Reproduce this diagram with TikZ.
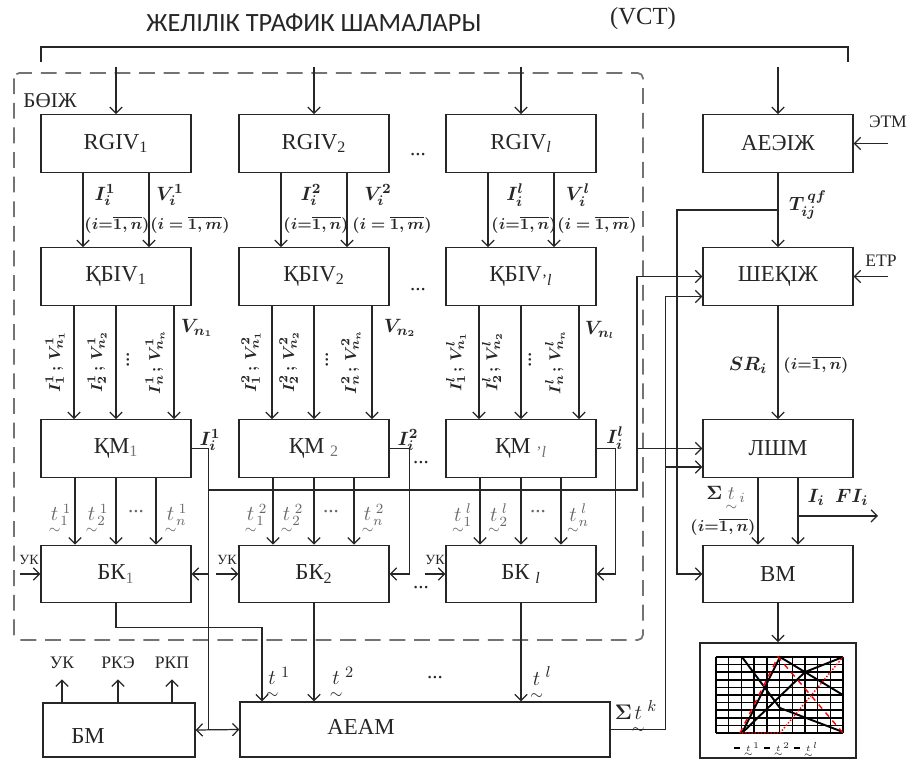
\documentclass[tikz,border=0pt]{standalone}
\usepackage{amsmath,amssymb,bm}
\usepackage{fontspec}
\setmainfont{Liberation Serif}
\newfontfamily\headfont{Carlito}
\usepackage{xcolor}
\usetikzlibrary{arrows.meta,positioning,calc}
\newcommand{\ut}{\smash[b]{\underset{\sim}{t}}}

\begin{document}
\begin{tikzpicture}[
    x=0.02cm, y=-0.02cm,
    >={Straight Barb[length=3.5pt,width=7pt]},
    line width=0.7pt, color=black!85,
    box/.style={draw, minimum width=3cm, minimum height=1.15cm, inner sep=0pt, font=\fontsize{13}{15}\selectfont},
    mlbl/.style={font=\fontsize{11}{13}\selectfont, inner sep=1pt},
    rng/.style={font=\fontsize{9}{10}\selectfont, inner sep=1pt},
    tlbl/.style={font=\fontsize{12}{14}\selectfont, text=black!60, inner sep=1pt},
    rot/.style={rotate=90, font=\fontsize{9.5}{11}\selectfont, inner sep=1pt},
    dots/.style={font=\fontsize{12}{14}\selectfont, inner sep=1pt},
    sml/.style={font=\fontsize{10}{12}\selectfont, inner sep=1pt},
  ]
  \useasboundingbox (0,0) rectangle (914,760);

  % traffic inputs
  \node[font=\headfont\fontsize{15}{17}\selectfont] (title) at (314,23) {ЖЕЛІЛІК ТРАФИК ШАМАЛАРЫ};
  \node[font=\fontsize{14}{16}\selectfont] (vct) at (643,19) {(VCT)};
  \coordinate (bl) at (41,47);
  \coordinate (br) at (848,47);
  \draw ([yshift=-3mm]bl) -- (bl) -- (br) -- ([yshift=-3mm]br);

  \draw[black!55, line width=1pt, dash pattern=on 9pt off 5pt, rounded corners=3pt] (14,73) rectangle (643,640);
  \node[anchor=west, font=\fontsize{12}{14}\selectfont] (boij) at (17,101) {БӨІЖ};

  % blocks
  \node[box] (r1) at (116,143.5) {RGIV\textsubscript{1}};
  \node[box] (r2) at (314,143.5) {RGIV\textsubscript{2}};
  \node[box] (r3) at (521,143.5) {RGIV\textsubscript{\textit{l}}};
  \node[box] (a) at (778,143.5) {АЕЭІЖ};
  \node[box] (q1) at (116,276.5) {ҚБІV\textsubscript{1}};
  \node[box] (q2) at (314,276.5) {ҚБІV\textsubscript{2}};
  \node[box] (q3) at (521,276.5) {ҚБІV\textsubscript{\textquoteright\textit{l}}};
  \node[box] (s) at (778,276.5) {ШЕҚІЖ};
  \node[box] (k1) at (116,448.5) {ҚМ\textsubscript{\color{black!55}1}};
  \node[box] (k2) at (314,448.5) {ҚМ \textsubscript{\color{black!55}2}};
  \node[box] (k3) at (521,448.5) {ҚМ \textsubscript{\color{black!55}\textquoteright\textit{l}}};
  \node[box] (l) at (778,448.5) {ЛШМ};
  \node[box] (b1) at (116,574) {БК\textsubscript{\color{black!55}1}};
  \node[box] (b2) at (314,574) {БК\textsubscript{2}};
  \node[box] (b3) at (521,574) {БК \textsubscript{\textit{l}}};
  \node[box] (v) at (778,574) {ВМ};
  \node[box, minimum width=3.04cm, minimum height=1.08cm] (bm) at (119,730) {};
  \node[box, minimum width=7.4cm, minimum height=1.1cm] (ae) at (425,729.5) {};
  \node[font=\fontsize{13}{15}\selectfont] (bmtxt) at (88,736) {БМ};
  \node[font=\fontsize{13}{15}\selectfont] (aetxt) at (361,727) {АЕАМ};
  \node[draw, line width=0.9pt, minimum width=3.12cm, minimum height=2.3cm, inner sep=0pt] (g) at (778,700.5) {};

  \draw[->] ([yshift=9.4mm]r1.north) -- (r1.north);
  \draw[->] ([yshift=9.4mm]r2.north) -- (r2.north);
  \draw[->] ([yshift=9.4mm]r3.north) -- (r3.north);
  \draw[->] ([yshift=9.4mm]a.north) -- (a.north);

  % RGIV -> QBIV
  \draw[->] ([xshift=-6.6mm]r1.south) -- ([xshift=-6.6mm]q1.north);
  \draw[->] ([xshift=6.6mm]r1.south) -- ([xshift=6.6mm]q1.north);
  \draw[->] ([xshift=-6.6mm]r2.south) -- ([xshift=-6.6mm]q2.north);
  \draw[->] ([xshift=6.6mm]r2.south) -- ([xshift=6.6mm]q2.north);
  \draw[->] ([xshift=-6.6mm]r3.south) -- ([xshift=-6.6mm]q3.north);
  \draw[->] ([xshift=6.6mm]r3.south) -- ([xshift=6.6mm]q3.north);
  \node[mlbl] (ri1) at (105,195) {$\bm{I_i^1}$};
  \node[rng] (rn1) at (117,225) {$\bm{(i{=}\overline{1,n})}$};
  \node[mlbl] (rv1) at (170,195) {$\bm{V_i^1}$};
  \node[rng] (rm1) at (190,225) {$\bm{(i=\overline{1,m})}$};
  \node[mlbl] (ri2) at (311,195) {$\bm{I_i^2}$};
  \node[rng] (rn2) at (316,225) {$\bm{(i{=}\overline{1,n})}$};
  \node[mlbl] (rv2) at (378,195) {$\bm{V_i^2}$};
  \node[rng] (rm2) at (392,225) {$\bm{(i=\overline{1,m})}$};
  \node[mlbl] (ri3) at (515,195) {$\bm{I_i^l}$};
  \node[rng] (rn3) at (524,225) {$\bm{(i{=}\overline{1,n})}$};
  \node[mlbl] (rv3) at (578,195) {$\bm{V_i^l}$};
  \node[rng] (rm3) at (597,225) {$\bm{(i=\overline{1,m})}$};
  \node[dots] (d1) at (418,155) {...};
  \node[dots] (d2) at (418,290) {...};

  % QBIV -> QM
  \draw[->] ([xshift=-8.4mm]q1.south) -- ([xshift=-8.4mm]k1.north);
  \draw[->] (q1.south) -- (k1.north);
  \draw[->] ([xshift=11.6mm]q1.south) -- ([xshift=11.6mm]k1.north);
  \draw[->] ([xshift=-8.4mm]q2.south) -- ([xshift=-8.4mm]k2.north);
  \draw[->] (q2.south) -- (k2.north);
  \draw[->] ([xshift=11.6mm]q2.south) -- ([xshift=11.6mm]k2.north);
  \draw[->] ([xshift=-8.4mm]q3.south) -- ([xshift=-8.4mm]k3.north);
  \draw[->] (q3.south) -- (k3.north);
  \draw[->] ([xshift=11.6mm]q3.south) -- ([xshift=11.6mm]k3.north);
  \node[rot] (p11) at (55,362) {$\bm{I_1^1\,;\,V^1_{n_1}}$};
  \node[rot] (p12) at (97,362) {$\bm{I_2^1\,;\,V^1_{n_2}}$};
  \node[rot, dots] (p1d) at (128,360) {...};
  \node[rot] (p13) at (155,362) {$\bm{I_n^1\,;\,V^1_{n_n}}$};
  \node[rot] (p21) at (251,362) {$\bm{I_1^2\,;\,V^2_{n_1}}$};
  \node[rot] (p22) at (289,362) {$\bm{I_2^2\,;\,V^2_{n_2}}$};
  \node[rot, dots] (p2d) at (327,360) {...};
  \node[rot] (p23) at (351,362) {$\bm{I_n^2\,;\,V^2_{n_n}}$};
  \node[rot] (p31) at (456,362) {$\bm{I_1^l\,;\,V^l_{n_1}}$};
  \node[rot] (p32) at (492,362) {$\bm{I_2^l\,;\,V^l_{n_2}}$};
  \node[rot, dots] (p3d) at (530,360) {...};
  \node[rot] (p33) at (555,362) {$\bm{I_n^l\,;\,V^l_{n_n}}$};
  \node[mlbl] (vn1) at (197,328) {$\bm{V_{n_1}}$};
  \node[mlbl] (vn2) at (400,328) {$\bm{V_{n_2}}$};
  \node[mlbl] (vn3) at (600,330) {$\bm{V_{n_l}}$};

  % QM -> BK
  \draw[->] ([xshift=-8.2mm]k1.south) -- ([xshift=-8.2mm]b1.north);
  \draw[->] (k1.south) -- (b1.north);
  \draw[->] ([xshift=8mm]k1.south) -- ([xshift=8mm]b1.north);
  \draw[->] ([xshift=-8.2mm]k2.south) -- ([xshift=-8.2mm]b2.north);
  \draw[->] (k2.south) -- (b2.north);
  \draw[->] ([xshift=8mm]k2.south) -- ([xshift=8mm]b2.north);
  \draw[->] ([xshift=-8.2mm]k3.south) -- ([xshift=-8.2mm]b3.north);
  \draw[->] (k3.south) -- (b3.north);
  \draw[->] ([xshift=8mm]k3.south) -- ([xshift=8mm]b3.north);
  \node[tlbl] (t11) at (60,515) {$\ut_1^{\,1}$};
  \node[tlbl] (t12) at (97,515) {$\ut_2^{\,1}$};
  \node[dots, text=black!60] (t1d) at (136,512) {...};
  \node[tlbl] (t13) at (176,515) {$\ut_n^{\,1}$};
  \node[tlbl] (t21) at (256,515) {$\ut_1^{\,2}$};
  \node[tlbl] (t22) at (292,515) {$\ut_2^{\,2}$};
  \node[dots, text=black!60] (t2d) at (331,512) {...};
  \node[tlbl] (t23) at (373,515) {$\ut_n^{\,2}$};
  \node[tlbl] (t31) at (462,515) {$\ut_1^{\,l}$};
  \node[tlbl] (t32) at (498,515) {$\ut_2^{\,l}$};
  \node[dots, text=black!60] (t3d) at (538,512) {...};
  \node[tlbl] (t33) at (578,515) {$\ut_n^{\,l}$};
  \node[dots] (d3) at (421,463) {...};
  \node[dots] (d4) at (421,588) {...};

  % I outputs of QM
  \coordinate (bmae) at ($(bm.east)!0.29!(ae.west)$);
  \coordinate (bus) at (637,490);
  \draw (k1.east) -| (bmae);
  \draw[->] (b1.east -| bmae) -- (b1.east);
  \draw[<->] (bm.east) -- (ae.west);
  \draw[->] (k2.east) -- ++(20,0) |- (b2.east);
  \draw[->] (k3.east) -- ++(19,0) |- (b3.east);
  \node[mlbl] (ki1) at (210,440) {$\bm{I_i^1}$};
  \node[mlbl] (ki2) at (408,440) {$\bm{I_i^2}$};
  \node[mlbl] (ki3) at (615,438) {$\bm{I_i^l}$};
  \draw[->] (bmae |- bus) -- (bus) |- (s.west);
  \draw[->] (bus |- l.west) -- (l.west);

  % control inputs
  \node[font=\fontsize{8}{10}\selectfont, inner sep=1pt] (uk1) at (29,560) {УК};
  \node[font=\fontsize{8}{10}\selectfont, inner sep=1pt] (uk2) at (227,560) {УК};
  \node[font=\fontsize{8}{10}\selectfont, inner sep=1pt] (uk3) at (435,560) {УК};
  \draw[->] ([xshift=-4mm]b1.west) -- (b1.west);
  \draw[->] ([xshift=-4.4mm]b2.west) -- (b2.west);
  \draw[->] ([xshift=-4mm]b3.west) -- (b3.west);

  % BK -> AEAM
  \coordinate (ae1) at ([xshift=-3.26cm]ae.north);
  \draw[->] (b1.south) -- ++(0,24) -| (ae1);
  \draw[->] (b2.south) -- (b2.south |- ae.north);
  \draw[->] (b3.south) -- (b3.south |- ae.north);
  \node[font=\fontsize{13}{15}\selectfont] (ta1) at (278,676) {$\ut^{\,1}$};
  \node[font=\fontsize{13}{15}\selectfont] (ta2) at (342,676) {$\ut^{\,2}$};
  \node[dots] (d5) at (435,678) {...};
  \node[font=\fontsize{13}{15}\selectfont] (ta3) at (541,676) {$\ut^{\,l}$};

  % BM outputs
  \draw[->] ([xshift=-11.4mm]bm.north) -- ++(0,-23);
  \draw[->] ([xshift=-0.2mm]bm.north) -- ++(0,-23);
  \draw[->] ([xshift=10.6mm]bm.north) -- ++(0,-23);
  \node[sml] (ukb) at (62,663) {УК};
  \node[sml] (rke) at (118,663) {РКЭ};
  \node[sml] (rkp) at (172,663) {РКП};

  % AEAM feedback
  \coordinate (sk) at ($(ae.east)+(55,0)$);
  \coordinate (s2) at ([yshift=-4mm]s.west);
  \coordinate (l2) at ([yshift=-3.7mm]l.west);
  \draw[->] (ae.east) -- (sk) |- (s2);
  \draw[->] (sk |- l2) -- (l2);
  \node[font=\fontsize{13}{15}\selectfont] (sumk) at (636,710) {$\bm{\Sigma}\ut^{\,k}$};

  % right column
  \coordinate (tq) at ($(a.south)!0.5!(s.north)$);
  \coordinate (tv) at ($(tq)+(-101,0)$);
  \draw[->] (a.south) -- (s.north);
  \draw[->] (tq) -- (tv) |- (v.west);
  \node[mlbl] (tqf) at (808,205) {$\bm{T_{ij}^{\,qf}}$};
  \draw[->] ([xshift=6.8mm]a.east) -- (a.east);
  \draw[->] ([xshift=6.8mm]s.east) -- (s.east);
  \node[sml] (etm) at (888,122) {ЭТМ};
  \node[sml] (etr) at (881,261) {ЕТР};
  \draw[->] (s.south) -- (l.north);
  \node[mlbl] (sri) at (748,365) {$\bm{SR_i}$};
  \node[rng] (srn) at (816,365) {$\bm{(i{=}\overline{1,n})}$};
  \draw[->] ([xshift=-4mm]l.south) -- ([xshift=-4mm]v.north);
  \draw[->] ([xshift=4mm]l.south) -- ([xshift=4mm]v.north);
  \coordinate (fi) at ($([xshift=4mm]l.south)!0.57!([xshift=4mm]v.north)$);
  \draw[->] (fi) -- ++(80,0);
  \node[mlbl] (sti) at (726,494) {$\bm{\Sigma}\,{\color{black!60}\ut_{\,i}}$};
  \node[rng] (stn) at (723,527) {$\bm{(i{=}\overline{1,n})}$};
  \node[mlbl] (ifi) at (838,497) {$\bm{I_i\;\;FI_i}$};
  \draw[->] (v.south) -- (g.north);

  % chart
  \foreach \i in {0,...,10} {
    \draw[black, line width=0.8pt] (716+12.7*\i,657) -- (716+12.7*\i,733);
    \draw[black, line width=0.8pt] (716,657+7.6*\i) -- (843,657+7.6*\i);
  }
  \draw[black, line width=1.1pt] (742,657) -- (780,708) -- (843,732);
  \draw[black, line width=1.1pt] (742,733) -- (780,657) -- (843,695);
  \draw[black, line width=1.1pt] (742,733) -- (805,672) -- (843,657);
  \draw[red, dashed, line width=0.8pt] (740,733) -- (778,657) -- (843,733);
  \draw[red, densely dotted, line width=0.8pt] (742,733) -- (780,733) -- (843,657);
  \draw[black, line width=1pt] (734,748) -- (740,748);
  \draw[black, line width=1pt] (764,748) -- (770,748);
  \draw[black, line width=1pt] (794,748) -- (800,748);
  \node[font=\fontsize{5}{6}\selectfont, inner sep=0pt, anchor=west] (lg1) at (743,747) {$\ut^1$};
  \node[font=\fontsize{5}{6}\selectfont, inner sep=0pt, anchor=west] (lg2) at (773,747) {$\ut^2$};
  \node[font=\fontsize{5}{6}\selectfont, inner sep=0pt, anchor=west] (lg3) at (803,747) {$\ut^l$};
\end{tikzpicture}
\end{document}
